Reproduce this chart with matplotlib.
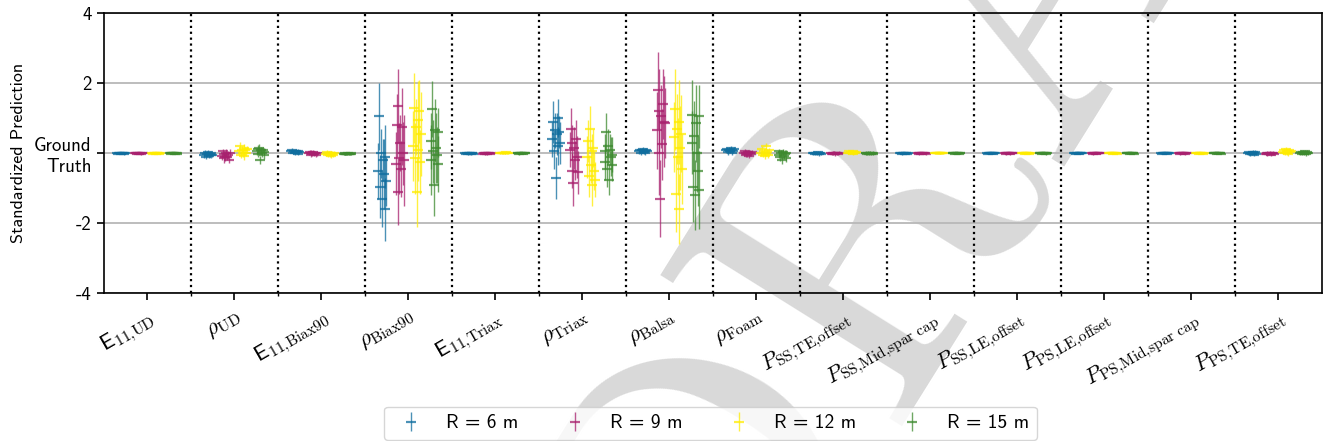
import numpy as np
import matplotlib
matplotlib.use('Agg')
from matplotlib import pyplot as plt

# category tick labels
categories = [r'$\mathsf{E}_{11{,}\mathrm{UD}}$', r'$\rho_{\mathrm{UD}}$',
              r'$\mathsf{E}_{11{,}\mathrm{Biax90}}$', r'$\rho_{\mathrm{Biax90}}$',
              r'$\mathsf{E}_{11{,}\mathrm{Triax}}$', r'$\rho_{\mathrm{Triax}}$',
              r'$\rho_{\mathrm{Balsa}}$', r'$\rho_{\mathrm{Foam}}$',
              r'$P_{\mathrm{SS{,}TE{,}offset}}$', r'$P_{\mathrm{SS{,}Mid{,}spar\ cap}}$',
              r'$P_{\mathrm{SS{,}LE{,}offset}}$', r'$P_{\mathrm{PS{,}LE{,}offset}}$',
              r'$P_{\mathrm{PS{,}Mid{,}spar\ cap}}$', r'$P_{\mathrm{PS{,}TE{,}offset}}$']
radii = ['R = 6 m', 'R = 9 m', 'R = 12 m', 'R = 15 m']

# standardized predictions (mean, std) per category, one list per radius
e11_ud_mean = [[0.00, -0.01, 0.01, 0.00, -0.01, 0.01, 0.00, 0.01, -0.01, 0.00],
               [0.00, 0.01, -0.01, 0.00, 0.01, -0.01, 0.00, -0.01, 0.01, 0.00],
               [0.00, -0.01, 0.01, 0.01, -0.01, 0.00, 0.01, 0.00, -0.01, 0.00],
               [0.00, 0.01, -0.01, 0.00, 0.00, 0.01, -0.01, 0.00, 0.01, -0.01]]
e11_ud_std = [[0.02, 0.02, 0.03, 0.02, 0.02, 0.03, 0.02, 0.02, 0.03, 0.02],
              [0.02, 0.03, 0.02, 0.02, 0.03, 0.02, 0.02, 0.03, 0.02, 0.02],
              [0.02, 0.02, 0.03, 0.02, 0.02, 0.03, 0.02, 0.02, 0.02, 0.03],
              [0.03, 0.02, 0.02, 0.02, 0.03, 0.02, 0.02, 0.03, 0.02, 0.02]]

rho_ud_mean = [[-0.05, 0.02, -0.10, -0.03, 0.04, -0.08, -0.02, -0.06, 0.00, -0.04],
               [-0.08, 0.05, -0.15, -0.02, -0.12, 0.02, -0.10, -0.05, -0.20, 0.00],
               [0.05, 0.20, -0.05, 0.10, 0.00, 0.15, -0.08, 0.08, 0.02, 0.12],
               [0.05, 0.12, -0.02, 0.15, -0.20, 0.08, 0.00, 0.10, -0.05, 0.04]]
rho_ud_std = [[0.08, 0.06, 0.07, 0.09, 0.05, 0.06, 0.08, 0.07, 0.06, 0.08],
              [0.10, 0.08, 0.12, 0.09, 0.10, 0.11, 0.08, 0.10, 0.09, 0.12],
              [0.10, 0.12, 0.09, 0.11, 0.10, 0.12, 0.10, 0.09, 0.11, 0.10],
              [0.10, 0.12, 0.09, 0.10, 0.12, 0.11, 0.10, 0.09, 0.12, 0.10]]

e11_biax_mean = [[0.05, 0.08, 0.02, 0.06, 0.00, 0.07, 0.03, 0.05, -0.01, 0.04],
                 [0.00, 0.03, -0.04, 0.02, -0.02, 0.04, -0.03, 0.01, -0.05, 0.00],
                 [-0.02, 0.03, -0.06, 0.00, -0.04, 0.02, -0.08, -0.01, -0.05, 0.01],
                 [-0.02, 0.00, -0.03, -0.01, -0.02, 0.00, -0.03, -0.01, -0.02, 0.00]]
e11_biax_std = [[0.05, 0.06, 0.05, 0.04, 0.06, 0.05, 0.05, 0.06, 0.04, 0.05],
                [0.06, 0.05, 0.06, 0.07, 0.05, 0.06, 0.06, 0.05, 0.06, 0.07],
                [0.06, 0.07, 0.05, 0.06, 0.06, 0.05, 0.07, 0.06, 0.05, 0.06],
                [0.03, 0.04, 0.03, 0.03, 0.04, 0.03, 0.03, 0.04, 0.03, 0.03]]

rho_biax_mean = [[-0.50, 1.05, -0.95, 0.00, -1.30, -0.20, -0.60, -1.60, -0.10, -0.80],
                 [-0.30, 0.80, -1.10, 1.35, -0.15, 0.30, -0.45, 0.75, 0.00, -0.20],
                 [0.20, 1.30, -0.15, 0.75, -1.10, 0.95, 0.10, 1.20, -0.25, 0.55],
                 [0.35, -0.20, 1.25, 0.05, -0.90, 0.65, 0.15, -0.05, 0.60, -0.30]]
rho_biax_std = [[0.80, 0.95, 0.90, 0.70, 0.80, 0.60, 1.00, 0.90, 0.90, 0.70],
                [0.90, 0.90, 0.95, 1.05, 1.00, 0.80, 0.80, 1.10, 0.90, 1.30],
                [1.00, 1.00, 1.00, 0.80, 1.00, 1.10, 0.90, 0.90, 0.90, 1.20],
                [0.80, 1.00, 0.80, 0.90, 0.90, 0.90, 1.00, 0.80, 0.70, 0.80]]

e11_triax_mean = [[0.00, -0.01, 0.01, -0.02, 0.00, 0.01, -0.01, 0.00, 0.01, -0.01],
                  [-0.01, 0.00, 0.01, -0.01, 0.00, -0.02, 0.01, 0.00, -0.01, 0.00],
                  [0.01, 0.02, 0.00, 0.01, 0.02, 0.00, 0.01, 0.03, 0.00, 0.01],
                  [0.00, 0.01, -0.01, 0.00, 0.01, 0.00, -0.01, 0.01, 0.00, 0.00]]
e11_triax_std = [[0.03, 0.02, 0.03, 0.02, 0.03, 0.02, 0.03, 0.02, 0.03, 0.02],
                 [0.02, 0.03, 0.02, 0.03, 0.02, 0.03, 0.02, 0.03, 0.02, 0.03],
                 [0.03, 0.02, 0.03, 0.03, 0.02, 0.03, 0.02, 0.03, 0.03, 0.02],
                 [0.02, 0.02, 0.03, 0.02, 0.02, 0.03, 0.02, 0.02, 0.03, 0.02]]

rho_triax_mean = [[0.40, 0.90, 0.05, 0.65, -0.70, 0.55, 1.00, 0.20, 0.60, 0.30],
                  [0.10, 0.70, -0.50, 0.30, -0.85, 0.15, -0.20, 0.40, -0.10, -0.55],
                  [-0.10, 0.35, -0.65, 0.70, -0.35, 0.05, -0.90, 0.15, -0.50, -0.75],
                  [0.05, -0.25, 0.60, -0.45, 0.20, -0.75, 0.10, -0.10, -0.35, -0.05]]
rho_triax_std = [[0.50, 0.60, 0.50, 0.50, 0.60, 0.60, 0.55, 0.55, 0.45, 0.60],
                 [0.50, 0.60, 0.50, 0.50, 0.65, 0.60, 0.55, 0.55, 0.60, 0.60],
                 [0.60, 0.60, 0.60, 0.65, 0.50, 0.50, 0.60, 0.55, 0.55, 0.50],
                 [0.50, 0.50, 0.55, 0.50, 0.50, 0.45, 0.45, 0.55, 0.45, 0.50]]

rho_balsa_mean = [[0.05, 0.10, 0.02, 0.08, 0.12, 0.04, 0.07, 0.00, 0.09, 0.06],
                  [0.65, 1.80, 0.00, 1.20, -1.30, 1.05, 0.25, 1.40, 0.90, 0.85],
                  [0.45, 1.25, -1.15, 0.70, -0.10, 0.90, -1.60, 0.15, 0.55, -0.45],
                  [0.30, 1.10, -0.95, 0.50, -1.20, 0.85, 0.00, -0.50, 1.05, -1.05]]
rho_balsa_std = [[0.06, 0.05, 0.07, 0.06, 0.05, 0.06, 0.07, 0.05, 0.06, 0.06],
                 [1.10, 1.10, 1.20, 1.20, 1.10, 0.90, 1.00, 1.00, 1.30, 1.00],
                 [1.00, 1.15, 1.10, 1.00, 1.10, 1.20, 1.00, 1.20, 1.10, 1.00],
                 [0.90, 1.00, 1.00, 1.00, 1.00, 1.10, 1.10, 1.00, 0.90, 1.10]]

rho_foam_mean = [[0.08, 0.12, 0.04, 0.10, 0.06, 0.14, 0.02, 0.09, 0.07, 0.11],
                 [0.00, 0.05, -0.06, 0.02, -0.03, 0.04, -0.08, 0.01, -0.02, 0.03],
                 [0.00, 0.12, -0.05, 0.05, -0.08, 0.20, -0.02, 0.03, -0.06, 0.08],
                 [-0.05, 0.05, -0.12, 0.00, -0.20, 0.03, -0.08, -0.02, -0.15, 0.02]]
rho_foam_std = [[0.07, 0.06, 0.08, 0.07, 0.06, 0.08, 0.07, 0.06, 0.07, 0.08],
                [0.07, 0.08, 0.06, 0.07, 0.08, 0.06, 0.07, 0.08, 0.07, 0.06],
                [0.08, 0.09, 0.07, 0.08, 0.09, 0.08, 0.07, 0.08, 0.09, 0.08],
                [0.09, 0.08, 0.10, 0.09, 0.10, 0.08, 0.09, 0.10, 0.09, 0.08]]

p_ss_te_mean = [[0.00, 0.02, -0.02, 0.01, -0.01, 0.03, -0.03, 0.00, 0.02, -0.01],
                [0.00, -0.02, 0.02, -0.01, 0.01, -0.03, 0.01, 0.00, -0.01, 0.02],
                [0.02, 0.05, 0.00, 0.04, 0.01, 0.06, -0.01, 0.03, 0.02, 0.04],
                [0.00, 0.02, -0.02, 0.01, -0.01, 0.02, -0.02, 0.00, 0.01, -0.01]]
p_ss_te_std = [[0.04, 0.03, 0.04, 0.04, 0.03, 0.04, 0.04, 0.03, 0.04, 0.04],
               [0.03, 0.04, 0.04, 0.03, 0.04, 0.04, 0.03, 0.04, 0.04, 0.03],
               [0.04, 0.04, 0.03, 0.04, 0.04, 0.03, 0.04, 0.04, 0.03, 0.04],
               [0.04, 0.03, 0.04, 0.04, 0.03, 0.04, 0.04, 0.03, 0.04, 0.04]]

p_ss_mid_mean = [[0.00, 0.01, -0.01, 0.00, 0.01, -0.01, 0.00, 0.01, -0.01, 0.00],
                 [0.00, -0.01, 0.01, 0.00, -0.01, 0.01, 0.00, 0.00, 0.01, -0.01],
                 [0.01, 0.00, 0.01, 0.00, 0.01, 0.00, 0.01, 0.00, 0.00, 0.01],
                 [0.00, 0.01, 0.00, -0.01, 0.00, 0.01, 0.00, -0.01, 0.01, 0.00]]
p_ss_mid_std = [[0.02, 0.02, 0.03, 0.02, 0.02, 0.02, 0.03, 0.02, 0.02, 0.02],
                [0.02, 0.03, 0.02, 0.02, 0.02, 0.03, 0.02, 0.02, 0.02, 0.03],
                [0.03, 0.02, 0.02, 0.03, 0.02, 0.02, 0.03, 0.02, 0.02, 0.03],
                [0.02, 0.02, 0.03, 0.02, 0.02, 0.03, 0.02, 0.02, 0.03, 0.02]]

p_ss_le_mean = [[0.00, -0.01, 0.01, 0.00, 0.00, 0.01, -0.01, 0.00, 0.00, 0.01],
                [0.00, 0.01, -0.01, 0.00, 0.01, 0.00, -0.01, 0.00, 0.01, 0.00],
                [0.00, 0.00, 0.01, -0.01, 0.00, 0.01, 0.00, 0.00, -0.01, 0.00],
                [0.00, 0.01, 0.00, -0.01, 0.01, 0.00, 0.00, 0.01, -0.01, 0.00]]
p_ss_le_std = [[0.02, 0.02, 0.02, 0.03, 0.02, 0.02, 0.02, 0.03, 0.02, 0.02],
               [0.02, 0.02, 0.03, 0.02, 0.02, 0.02, 0.03, 0.02, 0.02, 0.02],
               [0.02, 0.03, 0.02, 0.02, 0.02, 0.03, 0.02, 0.02, 0.02, 0.03],
               [0.02, 0.02, 0.02, 0.02, 0.03, 0.02, 0.02, 0.02, 0.03, 0.02]]

p_ps_le_mean = [[0.00, 0.01, -0.01, 0.00, 0.00, -0.01, 0.01, 0.00, 0.00, 0.01],
                [0.00, -0.01, 0.00, 0.01, 0.00, -0.01, 0.00, 0.01, 0.00, 0.00],
                [0.00, 0.01, 0.00, 0.00, -0.01, 0.00, 0.01, 0.00, 0.00, -0.01],
                [0.00, 0.00, 0.01, 0.00, -0.01, 0.00, 0.00, 0.01, 0.00, -0.01]]
p_ps_le_std = [[0.02, 0.02, 0.02, 0.02, 0.03, 0.02, 0.02, 0.02, 0.02, 0.03],
               [0.02, 0.03, 0.02, 0.02, 0.02, 0.02, 0.03, 0.02, 0.02, 0.02],
               [0.03, 0.02, 0.02, 0.02, 0.02, 0.03, 0.02, 0.02, 0.02, 0.02],
               [0.02, 0.02, 0.02, 0.03, 0.02, 0.02, 0.02, 0.03, 0.02, 0.02]]

p_ps_mid_mean = [[0.00, -0.01, 0.00, 0.01, 0.00, 0.00, -0.01, 0.00, 0.01, 0.00],
                 [0.00, 0.00, -0.01, 0.00, 0.01, 0.00, 0.00, -0.01, 0.00, 0.01],
                 [0.00, 0.01, 0.00, -0.01, 0.00, 0.01, 0.00, 0.00, -0.01, 0.00],
                 [0.00, 0.00, 0.01, 0.00, -0.01, 0.00, 0.01, 0.00, 0.00, -0.01]]
p_ps_mid_std = [[0.02, 0.02, 0.02, 0.03, 0.02, 0.02, 0.02, 0.02, 0.03, 0.02],
                [0.02, 0.02, 0.03, 0.02, 0.02, 0.02, 0.02, 0.03, 0.02, 0.02],
                [0.02, 0.03, 0.02, 0.02, 0.02, 0.03, 0.02, 0.02, 0.02, 0.02],
                [0.03, 0.02, 0.02, 0.02, 0.02, 0.02, 0.03, 0.02, 0.02, 0.02]]

p_ps_te_mean = [[0.00, 0.03, -0.03, 0.02, -0.02, 0.04, -0.04, 0.01, 0.03, -0.01],
                [-0.01, 0.01, -0.03, 0.00, -0.02, 0.02, -0.04, 0.00, 0.01, -0.02],
                [0.03, 0.08, 0.00, 0.12, 0.02, 0.06, -0.02, 0.10, 0.04, 0.05],
                [0.01, 0.04, -0.02, 0.03, -0.01, 0.05, -0.03, 0.02, 0.04, 0.00]]
p_ps_te_std = [[0.05, 0.04, 0.05, 0.05, 0.04, 0.05, 0.05, 0.04, 0.05, 0.05],
               [0.04, 0.04, 0.05, 0.04, 0.04, 0.05, 0.04, 0.04, 0.05, 0.04],
               [0.06, 0.07, 0.05, 0.06, 0.06, 0.07, 0.05, 0.06, 0.06, 0.05],
               [0.05, 0.05, 0.04, 0.05, 0.05, 0.04, 0.05, 0.05, 0.04, 0.05]]

means = [e11_ud_mean, rho_ud_mean, e11_biax_mean, rho_biax_mean, e11_triax_mean,
         rho_triax_mean, rho_balsa_mean, rho_foam_mean, p_ss_te_mean, p_ss_mid_mean,
         p_ss_le_mean, p_ps_le_mean, p_ps_mid_mean, p_ps_te_mean]
stds = [e11_ud_std, rho_ud_std, e11_biax_std, rho_biax_std, e11_triax_std,
        rho_triax_std, rho_balsa_std, rho_foam_std, p_ss_te_std, p_ss_mid_std,
        p_ss_le_std, p_ps_le_std, p_ps_mid_std, p_ps_te_std]

colors = ['#0f6d9e', '#a8206e', '#ffec00', '#3d8a2f']
offsets = [-0.3, -0.1, 0.1, 0.3]

plt.rcParams['font.family'] = ['cmss10', 'DejaVu Sans']
plt.rcParams['mathtext.fontset'] = 'cm'
plt.rcParams['axes.unicode_minus'] = False
plt.rcParams['axes.formatter.use_mathtext'] = True

fig = plt.figure(figsize=(13.23, 4.41), dpi=100)
ax = fig.add_axes([0.0786, 0.335, 0.9205, 0.635])
ax.patch.set_alpha(0)

# watermark behind everything
fig.text(0.78, 1.0, 'DRAFT', fontsize=300, family='cmr10', color='#d9d9d9',
         rotation=58, ha='center', va='center', zorder=-5)

handles = []
for ci in range(len(categories)):
    for ri in range(len(radii)):
        m = np.array(means[ci][ri])
        s = np.array(stds[ci][ri])
        x = ci + offsets[ri] + np.linspace(-0.045, 0.045, len(m))
        eb = ax.errorbar(x, m, yerr=s, fmt='_', color=colors[ri], ms=7, mew=1.6,
                         elinewidth=1.0, alpha=0.75, zorder=3,
                         label=radii[ri] if ci == 0 else None)
        if ci == 0:
            handles.append(eb)

for i in range(len(categories) - 1):
    ax.axvline(i + 0.5, color='k', ls=':', lw=1.6, zorder=2)

ax.set_xlim(-0.5, len(categories) - 0.5)
ax.set_ylim(-4, 4)
ax.set_yticks([-4, -2, 0, 2, 4])
ax.set_yticklabels(['-4', '-2', 'Ground\nTruth', '2', '4'], fontsize=13.5)
ax.yaxis.grid(True, color='#b8b8b8', lw=1.3, zorder=1)
ax.set_axisbelow(True)
ax.set_xticks(np.arange(len(categories)))
ax.set_xticklabels(categories, rotation=30, ha='right', rotation_mode='anchor', fontsize=16)
ax.set_xticks(np.arange(len(categories) - 1) + 0.5, minor=True)
ax.tick_params(axis='x', which='major', length=5, width=1.2, pad=5)
ax.tick_params(axis='x', which='minor', length=2, width=1.0)
ax.tick_params(axis='y', length=5, width=1.2, pad=4)
for sp in ax.spines.values():
    sp.set_linewidth(1.2)
ax.set_ylabel('Standardized Prediction', fontsize=13, labelpad=6)

fig.legend(handles, radii, loc='lower center', bbox_to_anchor=(0.537, -0.02), ncol=4,
           fontsize=14, handletextpad=0.8, columnspacing=1.9, frameon=True,
           edgecolor='#cccccc', fancybox=True)

fig.savefig('out.png', dpi=100)
